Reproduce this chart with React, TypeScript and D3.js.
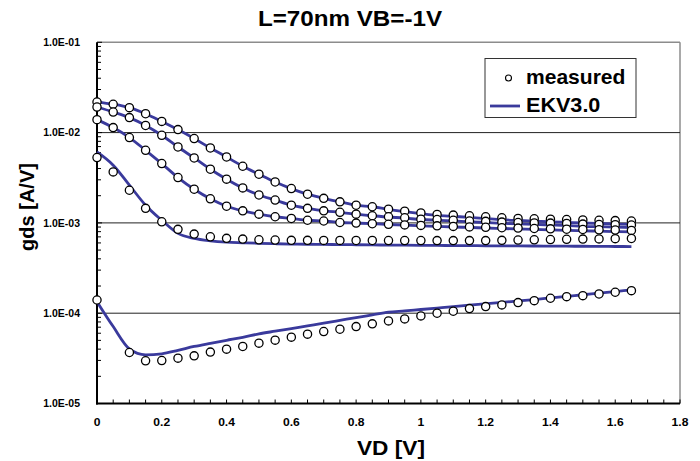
import React from "react";
import * as d3 from "d3";

const VD = [0, 0.05, 0.1, 0.15, 0.2, 0.25, 0.3, 0.35, 0.4, 0.45, 0.5, 0.55, 0.6, 0.65, 0.7, 0.75, 0.8, 0.85, 0.9, 0.95, 1.0, 1.05, 1.1, 1.15, 1.2, 1.25, 1.3, 1.35, 1.4, 1.45, 1.5, 1.55, 1.6, 1.65];

const measured1 = [0.0218, 0.0206, 0.0189, 0.0162, 0.0133, 0.0108, 0.00859, 0.00676, 0.00537, 0.00424, 0.00346, 0.00284, 0.0024, 0.00208, 0.00187, 0.00171, 0.00157, 0.00151, 0.00142, 0.00135, 0.00129, 0.00124, 0.00122, 0.0012, 0.00117, 0.00114, 0.00112, 0.00111, 0.0011, 0.00109, 0.00108, 0.00107, 0.00106, 0.00105];
const measured2 = [0.0192, 0.0169, 0.01465, 0.012, 0.00934, 0.00693, 0.00524, 0.00393, 0.00305, 0.00244, 0.00204, 0.00179, 0.00157, 0.00145, 0.00136, 0.00131, 0.00125, 0.0012, 0.00117, 0.00114, 0.0011, 0.00109, 0.00107, 0.00105, 0.00104, 0.00102, 0.00101, 0.001, 0.000995, 0.000987, 0.00097, 0.000963, 0.000955, 0.000948];
const measured3 = [0.01392, 0.01136, 0.00881, 0.00637, 0.00454, 0.00318, 0.00236, 0.00185, 0.00153, 0.00136, 0.00125, 0.00117, 0.00112, 0.00107, 0.00105, 0.00101, 0.000995, 0.00098, 0.000965, 0.00095, 0.000938, 0.000927, 0.000915, 0.000903, 0.000894, 0.000885, 0.000876, 0.000867, 0.000859, 0.000852, 0.000846, 0.000839, 0.000833, 0.000826];
const measured4 = [0.00529, 0.00367, 0.0023, 0.00145, 0.001028, 0.000848, 0.000752, 0.000702, 0.000674, 0.000662, 0.00065, 0.000646, 0.000641, 0.000641, 0.00064, 0.00064, 0.000639, 0.000639, 0.000638, 0.000638, 0.000638, 0.000637, 0.000637, 0.000637, 0.000637, 0.000641, 0.000646, 0.00065, 0.000654, 0.000658, 0.000662, 0.000665, 0.000669, 0.000673];
const measured5 = [1.4e-4, null, 3.67e-5, 2.97e-5, 2.99e-5, 3.18e-5, 3.37e-5, 3.71e-5, 4.0e-5, 4.28e-5, 4.66e-5, 5.03e-5, 5.43e-5, 5.86e-5, 6.26e-5, 6.65e-5, 7.11e-5, 7.62e-5, 8.22e-5, 8.65e-5, 9.34e-5, 1.0e-4, 1.052e-4, 1.124e-4, 1.183e-4, 1.235e-4, 1.31e-4, 1.378e-4, 1.464e-4, 1.526e-4, 1.564e-4, 1.634e-4, 1.706e-4, 1.777e-4];

const model1 = [0.0218, 0.0206, 0.0189, 0.0162, 0.0133, 0.0108, 0.00859, 0.00676, 0.00537, 0.00424, 0.00346, 0.00284, 0.0024, 0.00208, 0.00187, 0.00171, 0.00157, 0.00151, 0.00141, 0.001333, 0.001267, 0.00121, 0.00118, 0.001153, 0.001118, 0.001085, 0.001063, 0.001044, 0.001028, 0.001013, 0.000997, 0.000985, 0.000972, 0.000962];
const model2 = [0.0192, 0.0169, 0.01465, 0.012, 0.00934, 0.00693, 0.00524, 0.00393, 0.00305, 0.00244, 0.00204, 0.00179, 0.00157, 0.00145, 0.00136, 0.00131, 0.00125, 0.0012, 0.001162, 0.00113, 0.00109, 0.001071, 0.001052, 0.001028, 0.00101, 0.00099, 0.000977, 0.000962, 0.00095, 0.000938, 0.000917, 0.000908, 0.000897, 0.000885];
const model3 = [0.01392, 0.01136, 0.00881, 0.00637, 0.00454, 0.00318, 0.00236, 0.00185, 0.00153, 0.00136, 0.00125, 0.00117, 0.00112, 0.00107, 0.00105, 0.00101, 0.000995, 0.00098, 0.00096, 0.000943, 0.000929, 0.000915, 0.000901, 0.00089, 0.000878, 0.000867, 0.000856, 0.000846, 0.000835, 0.000826, 0.000818, 0.00081, 0.000801, 0.000795];
const model4 = [0.0061, 0.00435, 0.00262, 0.00157, 0.00107, 0.000766, 0.000674, 0.000634, 0.000613, 0.000603, 0.000594, 0.000588, 0.000583, 0.00058, 0.000578, 0.000575, 0.000573, 0.000571, 0.000568, 0.000566, 0.000564, 0.000563, 0.000561, 0.00056, 0.000558, 0.000557, 0.000556, 0.000555, 0.000554, 0.000552, 0.000551, 0.000549, 0.000548, 0.000547];
const model5 = [1.343e-4, 7.11e-5, 4.03e-5, 3.46e-5, 3.55e-5, 3.88e-5, 4.28e-5, 4.64e-5, 5.01e-5, 5.4e-5, 5.9e-5, 6.32e-5, 6.76e-5, 7.24e-5, 7.75e-5, 8.32e-5, 8.94e-5, 9.58e-5, 1.026e-4, 1.06e-4, 1.099e-4, 1.139e-4, 1.18e-4, 1.226e-4, 1.27e-4, 1.316e-4, 1.367e-4, 1.417e-4, 1.476e-4, 1.538e-4, 1.601e-4, 1.668e-4, 1.737e-4, 1.809e-4];

const measuredSeries = [measured1, measured2, measured3, measured4, measured5];
const modelSeries = [model1, model2, model3, model4, model5];

const xTickValues = [0, 0.2, 0.4, 0.6, 0.8, 1.0, 1.2, 1.4, 1.6, 1.8];
const xTickLabels = ["0", "0.2", "0.4", "0.6", "0.8", "1", "1.2", "1.4", "1.6", "1.8"];
const yTickValues = [1e-5, 1e-4, 1e-3, 1e-2, 1e-1];
const yTickLabels = ["1.0E-05", "1.0E-04", "1.0E-03", "1.0E-02", "1.0E-01"];
const gridValues = [1e-4, 1e-3, 1e-2];

const title = "L=70nm VB=-1V";
const xTitle = "VD [V]";
const yTitle = "gds [A/V]";
const legendLabels = ["measured", "EKV3.0"];

const FONT = "'Liberation Sans', Arial, Helvetica, sans-serif";
const LINE_COLOR = "#3a3a9c";

const L = 97, R = 680, T = 42.3, B = 403.5;

function SText({ x, y, size, anchor = "start", sx = 1.08, children, rotate = 0 }: any) {
  const tf = rotate ? `translate(${x},${y}) rotate(${rotate}) scale(${sx},1)` : `translate(${x},${y}) scale(${sx},1)`;
  return (
    <text transform={tf} fontFamily={FONT} fontWeight="bold" fontSize={size} textAnchor={anchor} fill="#000">
      {children}
    </text>
  );
}

export default function App() {
  const x = d3.scaleLinear().domain([0, 1.8]).range([L, R]);
  const y = d3.scaleLog().domain([1e-5, 1e-1]).range([B, T]);

  const line = d3
    .line<[number, number]>()
    .x((d) => x(d[0]))
    .y((d) => y(d[1]))
    .curve(d3.curveMonotoneX);

  const xMinor = d3.range(0, 1.8001, 0.05);
  const yMinor: number[] = [];
  for (let e = -5; e < -1; e++) {
    for (let k = 2; k <= 9; k++) yMinor.push(k * Math.pow(10, e));
  }

  return (
    <svg width={700} height={461} style={{ position: "absolute", left: 0, top: 0, background: "#fff" }}>
      <rect x={0} y={0} width={700} height={461} fill="#fff" />
      {/* frame */}
      <line x1={L} x2={R} y1={T} y2={T} stroke="#8c8c8c" strokeWidth={1.5} />
      <line x1={R} x2={R} y1={T} y2={B} stroke="#8c8c8c" strokeWidth={1.5} />
      {gridValues.map((g, i) => (
        <line key={"g" + i} x1={L} x2={R} y1={y(g)} y2={y(g)} stroke="#222" strokeWidth={1} />
      ))}
      {/* ticks */}
      {xMinor.map((v, i) => (
        <line key={"xt" + i} x1={x(v)} x2={x(v)} y1={B} y2={B - 4} stroke="#000" strokeWidth={1} />
      ))}
      {yMinor.map((v, i) => (
        <line key={"ym" + i} x1={L} x2={L + 4} y1={y(v)} y2={y(v)} stroke="#000" strokeWidth={1} />
      ))}
      {yTickValues.map((v, i) => (
        <line key={"yt" + i} x1={L} x2={L + 5} y1={y(v)} y2={y(v)} stroke="#000" strokeWidth={1} />
      ))}
      <line x1={L} x2={L} y1={T} y2={B + 1} stroke="#000" strokeWidth={2} />
      <line x1={L - 1} x2={R} y1={B} y2={B} stroke="#000" strokeWidth={2} />

      {/* model lines */}
      {modelSeries.map((s, i) => (
        <path
          key={"m" + i}
          d={line(s.map((v, j) => [VD[j], v] as [number, number])) || ""}
          fill="none"
          stroke={LINE_COLOR}
          strokeWidth={2.8}
        />
      ))}
      {/* measured points */}
      {measuredSeries.map((s, i) => (
        <g key={"p" + i}>
          {s.map((v, j) =>
            v == null ? null : (
              <circle key={j} cx={x(VD[j])} cy={y(v)} r={4.1} fill="#fff" stroke="#000" strokeWidth={1.3} />
            )
          )}
        </g>
      ))}

      {/* tick labels */}
      {xTickValues.map((v, i) => (
        <SText key={"xl" + i} x={x(v)} y={426} size={11} anchor="middle" sx={1.1}>
          {xTickLabels[i]}
        </SText>
      ))}
      {yTickValues.map((v, i) => (
        <SText key={"yl" + i} x={80} y={y(v) + 3.8} size={10} anchor="end" sx={1.05}>
          {yTickLabels[i]}
        </SText>
      ))}

      {/* titles */}
      <SText x={350} y={26} size={22} anchor="middle" sx={1.1}>
        {title}
      </SText>
      <SText x={391} y={455} size={21} anchor="middle" sx={1.08}>
        {xTitle}
      </SText>
      <SText x={34} y={207} size={20} anchor="middle" sx={1.0} rotate={-90}>
        {yTitle}
      </SText>

      {/* legend */}
      <rect x={485} y={58.5} width={151} height={59} fill="#fff" stroke="#333" strokeWidth={1} />
      <circle cx={508.5} cy={78} r={3} fill="#fff" stroke="#000" strokeWidth={1.1} />
      <SText x={526} y={84} size={19.5} sx={1.08}>
        {legendLabels[0]}
      </SText>
      <line x1={490} x2={520} y1={106} y2={106} stroke={LINE_COLOR} strokeWidth={2.8} />
      <SText x={526} y={112} size={20} sx={1.08}>
        {legendLabels[1]}
      </SText>
    </svg>
  );
}
